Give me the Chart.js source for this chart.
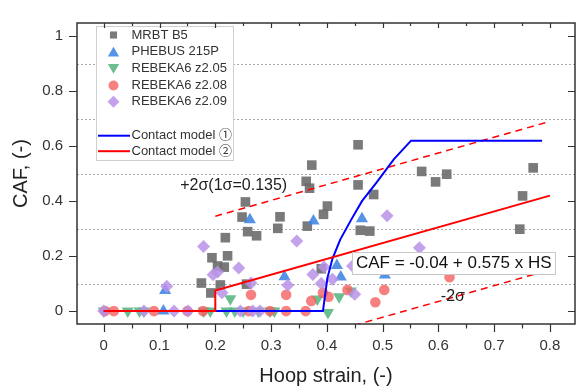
<!DOCTYPE html>
<html><head><meta charset="utf-8">
<script src="https://cdn.jsdelivr.net/npm/chart.js@4.4.1/dist/chart.umd.min.js"></script>
<style>html,body{margin:0;padding:0;background:#fff}#wrap{width:582px;height:388px}</style>
</head><body><div id="wrap"><canvas id="c" width="582" height="388"></canvas></div>
<script>
const FF = "'Liberation Sans', Arial, 'Noto Sans CJK JP', sans-serif";

// ---- data ----
const seriesNames = ['MRBT B5', 'PHEBUS 215P', 'REBEKA6 z2.05', 'REBEKA6 z2.08', 'REBEKA6 z2.09', 'Contact model \u2460', 'Contact model \u2461'];

const mrbtX = [0.373,0.363,0.369,0.254,0.248,0.316,0.258,0.274,0.312,0.365,0.218,0.194,0.222,0.204,0.216,0.175,0.192,0.209,0.256,0.456,0.456,0.484,0.401,0.394,0.460,0.477,0.390,0.570,0.595,0.615,0.770,0.751,0.746];
const mrbtY = [0.531,0.472,0.447,0.397,0.342,0.343,0.289,0.274,0.301,0.309,0.267,0.194,0.201,0.164,0.160,0.102,0.066,0.095,0.098,0.605,0.459,0.424,0.382,0.352,0.294,0.291,0.154,0.508,0.470,0.498,0.521,0.419,0.298];

const phebusX = [0.110,0.107,0.262,0.324,0.376,0.463,0.418,0.425,0.504];
const phebusY = [0.075,0.0,0.332,0.125,0.328,0.336,0.166,0.124,0.131];

const z205X = [0.0,0.043,0.064,0.072,0.179,0.191,0.22,0.235,0.25,0.277,0.298,0.306,0.227,0.383,0.402,0.422,0.443];
const z205Y = [0,0,0,0,0,0,0,0,0,0,0,0,0.045,0.044,-0.005,0.052,0.073];

const z208X = [0.002,0.018,0.09,0.15,0.178,0.26,0.298,0.327,0.362,0.264,0.327,0.372,0.393,0.403,0.437,0.487,0.503,0.62];
const z208Y = [0,0,0,0,0,0,0,0,0,0.059,0.059,0.037,0.067,0.052,0.077,0.032,0.077,0.123];

const z209X = [0.0,0.072,0.126,0.151,0.245,0.267,0.28,0.179,0.196,0.204,0.113,0.346,0.242,0.212,0.264,0.33,0.375,0.39,0.395,0.41,0.446,0.45,0.508,0.566];
const z209Y = [0,0,0,0,0,0,0,0.235,0.132,0.142,0.09,0.255,0.157,0.067,0.102,0.094,0.133,0.1,0.16,0.116,0.164,0.061,0.347,0.23];

const model1X = [0,0.393,0.397,0.401,0.41,0.424,0.443,0.463,0.49,0.52,0.551,0.786];
const model1Y = [0,0,0.06,0.12,0.19,0.26,0.33,0.40,0.47,0.552,0.62,0.62];

const model2X = [0,0.2,0.2,0.8];
const model2Y = [0,0,0.075,0.42];

const upperX = [0.2,0.8];
const upperY = [0.345,0.69];
const lowerX = [0.2,0.8];
const lowerY = [-0.195,0.15];

const xTicks = [0,0.1,0.2,0.3,0.4,0.5,0.6,0.7,0.8];
const xTickLabels = ['0','0.1','0.2','0.3','0.4','0.5','0.6','0.7','0.8'];
const xMinor = [0.05,0.15,0.25,0.35,0.45,0.55,0.65,0.75];
const yTicks = [0,0.2,0.4,0.6,0.8,1];
const yTickLabels = ['0','0.2','0.4','0.6','0.8','1'];
const yGrid = [0.1,0.3,0.5,0.7,0.9];

const xTitle = 'Hoop strain, (-)';
const yTitle = 'CAF, (-)';
const notePlus = '+2\u03c3(1\u03c3=0.135)';
const noteMinus = '-2\u03c3';
const noteFit = 'CAF = -0.04 + 0.575 x HS';

// ---- styles ----
const cGray = 'rgba(108,108,108,0.9)';
const cBlue = 'rgba(62,132,228,0.88)';
const cGreen = 'rgba(82,178,125,0.85)';
const cRed = 'rgba(245,98,98,0.8)';
const cPurple = 'rgba(186,146,232,0.85)';

function pts(xs, ys) { return xs.map((v, i) => ({x: v, y: ys[i]})); }

function scatterSet(label, xs, ys, color, style, r, rot, order) {
  return {label, data: pts(xs, ys), showLine: false, pointStyle: style, pointRadius: r,
    pointRotation: rot, backgroundColor: color, borderColor: color, pointBorderWidth: 0, borderWidth: 0, order};
}
function lineSet(label, xs, ys, color, width, dash, order) {
  return {label, data: pts(xs, ys), showLine: true, pointRadius: 0, borderColor: color,
    backgroundColor: color, borderWidth: width, borderDash: dash, tension: 0, fill: false, order};
}

const datasets = [
  lineSet(seriesNames[6], model2X, model2Y, '#ff0000', 2, [], 1),
  lineSet(seriesNames[5], model1X, model1Y, '#0000ff', 2, [], 2),
  lineSet('+2s', upperX, upperY, '#ff0000', 1.5, [7, 5], 3),
  lineSet('-2s', lowerX, lowerY, '#ff0000', 1.5, [7, 5], 3),
  scatterSet(seriesNames[4], z209X, z209Y, cPurple, 'rectRot', 6.5, 0, 10),
  scatterSet(seriesNames[3], z208X, z208Y, cRed, 'circle', 5.3, 0, 11),
  scatterSet(seriesNames[2], z205X, z205Y, cGreen, 'triangle', 7, 180, 12),
  scatterSet(seriesNames[1], phebusX, phebusY, cBlue, 'triangle', 7, 0, 13),
  scatterSet(seriesNames[0], mrbtX, mrbtY, cGray, 'rect', 6.8, 0, 14)
];

function drawMarker(ctx, style, cx, cy, r, color, rot) {
  ctx.fillStyle = color; ctx.beginPath();
  if (style === 'rect') { const s = r * Math.SQRT1_2; ctx.rect(cx - s, cy - s, 2 * s, 2 * s); }
  else if (style === 'circle') { ctx.arc(cx, cy, r, 0, Math.PI * 2); }
  else if (style === 'rectRot') { ctx.moveTo(cx, cy - r); ctx.lineTo(cx + r, cy); ctx.lineTo(cx, cy + r); ctx.lineTo(cx - r, cy); ctx.closePath(); }
  else if (style === 'triangle') {
    let a = rot * Math.PI / 180;
    ctx.moveTo(cx + Math.sin(a) * r, cy - Math.cos(a) * r);
    a += 2 * Math.PI / 3; ctx.lineTo(cx + Math.sin(a) * r, cy - Math.cos(a) * r);
    a += 2 * Math.PI / 3; ctx.lineTo(cx + Math.sin(a) * r, cy - Math.cos(a) * r);
    ctx.closePath();
  }
  ctx.fill();
}

const legendMarkers = [
  {style: 'rect', color: cGray, r: 5, rot: 0},
  {style: 'triangle', color: cBlue, r: 6.5, rot: 0},
  {style: 'triangle', color: cGreen, r: 6.5, rot: 180},
  {style: 'circle', color: cRed, r: 5, rot: 0},
  {style: 'rectRot', color: cPurple, r: 6, rot: 0}
];

const decor = {
  id: 'decor',
  beforeDatasetsDraw(chart) {
    const {ctx, chartArea: a, scales: {y}} = chart;
    ctx.save();
    ctx.strokeStyle = '#a8a8a8'; ctx.lineWidth = 1; ctx.setLineDash([2, 2]);
    for (const v of yGrid) {
      const py = Math.round(y.getPixelForValue(v)) + 0.5;
      ctx.beginPath(); ctx.moveTo(a.left, py); ctx.lineTo(a.right, py); ctx.stroke();
    }
    ctx.restore();
  },
  afterDatasetsDraw(chart) {
    const {ctx, chartArea: a, scales: {x, y}} = chart;
    ctx.save();
    ctx.setLineDash([]);
    // annotations
    ctx.textAlign = 'center'; ctx.textBaseline = 'middle';
    ctx.fillStyle = '#222';
    ctx.font = '16px ' + FF;
    ctx.fillText(notePlus, x.getPixelForValue(0.233), y.getPixelForValue(0.456));
    ctx.fillText(noteMinus, x.getPixelForValue(0.626), y.getPixelForValue(0.052));
    ctx.font = '17px ' + FF;
    const cx = x.getPixelForValue(0.6276), cy = y.getPixelForValue(0.175);
    const w = Math.round(ctx.measureText(noteFit).width + 7), h = 22;
    const bx = Math.round(cx - w / 2) + 0.5, by = Math.round(cy - h / 2) + 0.5;
    ctx.fillStyle = '#fff'; ctx.fillRect(bx, by, w, h);
    ctx.strokeStyle = '#c8c8c8'; ctx.lineWidth = 1; ctx.strokeRect(bx, by, w, h);
    ctx.fillStyle = '#111'; ctx.fillText(noteFit, cx, cy + 0.5);

    // legend
    ctx.fillStyle = '#fff'; ctx.fillRect(96.5, 26.5, 137, 134);
    ctx.strokeStyle = '#cfcfcf'; ctx.strokeRect(96.5, 26.5, 137, 134);
    ctx.font = '13px ' + FF; ctx.textAlign = 'left'; ctx.fillStyle = '#333';
    const rows = [35, 51.8, 68.8, 85.5, 101.8];
    for (let i = 0; i < 5; i++) {
      const m = legendMarkers[i];
      drawMarker(ctx, m.style, 113.5, rows[i] + (m.style === 'triangle' ? (m.rot ? -1.5 : 1.5) : 0), m.r, m.color, m.rot);
      ctx.fillStyle = '#333';
      ctx.fillText(seriesNames[i], 131.5, rows[i]);
    }
    const lrows = [135.7, 151.2];
    const lcols = ['#0000ff', '#ff0000'];
    for (let i = 0; i < 2; i++) {
      ctx.strokeStyle = lcols[i]; ctx.lineWidth = 2;
      ctx.beginPath(); ctx.moveTo(98, lrows[i]); ctx.lineTo(130, lrows[i]); ctx.stroke();
      ctx.fillStyle = '#333';
      ctx.fillText(seriesNames[5 + i], 131.5, lrows[i]);
    }

    // frame
    ctx.strokeStyle = '#333'; ctx.lineWidth = 1.5;
    ctx.strokeRect(a.left, a.top, a.right - a.left, a.bottom - a.top);
    ctx.lineWidth = 1.2;
    ctx.beginPath();
    for (const v of xTicks) {
      const px = Math.round(x.getPixelForValue(v)) + 0.5;
      ctx.moveTo(px, a.bottom); ctx.lineTo(px, a.bottom + 8);
      ctx.moveTo(px, a.top); ctx.lineTo(px, a.top + 5);
    }
    for (const v of xMinor) {
      const px = Math.round(x.getPixelForValue(v)) + 0.5;
      ctx.moveTo(px, a.bottom); ctx.lineTo(px, a.bottom + 4.5);
      ctx.moveTo(px, a.top); ctx.lineTo(px, a.top + 3);
    }
    for (const v of yTicks) {
      const py = Math.round(y.getPixelForValue(v)) + 0.5;
      ctx.moveTo(a.left - 8, py); ctx.lineTo(a.left, py);
      ctx.moveTo(a.right - 7, py); ctx.lineTo(a.right, py);
    }
    ctx.stroke();
    ctx.restore();
  }
};

new Chart(document.getElementById('c'), {
  type: 'scatter',
  data: {datasets},
  options: {
    responsive: false, animation: false, devicePixelRatio: 1, events: [],
    layout: {padding: {top: 12, right: 2, left: 0, bottom: 0}},
    plugins: {legend: {display: false}, tooltip: {enabled: false}, title: {display: false}},
    scales: {
      x: {
        type: 'linear', min: -0.048, max: 0.845,
        grid: {display: false, drawTicks: false}, border: {display: false},
        ticks: {padding: 13, color: '#333', font: {size: 15, family: FF}, autoSkip: false, maxRotation: 0,
          callback: (v, i) => xTickLabels[i]},
        afterBuildTicks: s => { s.ticks = xTicks.map(v => ({value: v})); },
        afterFit: s => { s.height = 64; },
        title: {display: true, text: xTitle, color: '#222', font: {size: 20, family: FF}, padding: {top: 0, bottom: 0}}
      },
      y: {
        type: 'linear', min: -0.047, max: 1.048,
        grid: {display: false, drawTicks: false}, border: {display: false},
        ticks: {padding: 14, color: '#333', font: {size: 15, family: FF}, autoSkip: false,
          callback: (v, i) => yTickLabels[i]},
        afterBuildTicks: s => { s.ticks = yTicks.map(v => ({value: v})); },
        afterFit: s => { s.width = 77; },
        title: {display: true, text: yTitle, color: '#222', font: {size: 20, family: FF}, padding: {top: 9, bottom: 0}}
      }
    }
  },
  plugins: [decor]
});
</script>
</body></html>
